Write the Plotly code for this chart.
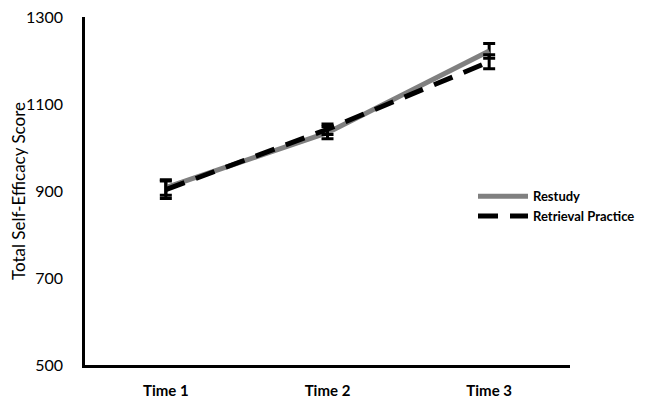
import plotly.graph_objects as go

categories = ["Time 1", "Time 2", "Time 3"]
restudy = [908, 1034, 1222]
restudy_err = [18, 14, 17]
retrieval = [903, 1042, 1197]
retrieval_err = [20, 12, 16]
y_ticks = [500, 700, 900, 1100, 1300]

fig = go.Figure()
fig.add_trace(go.Scatter(
    x=categories, y=restudy, name="Restudy", mode="lines",
    line=dict(color="#808080", width=5),
    error_y=dict(type="data", array=restudy_err, color="black", thickness=3, width=6),
))
fig.add_trace(go.Scatter(
    x=categories, y=retrieval, name="Retrieval Practice", mode="lines",
    line=dict(color="black", width=5, dash="20px,12px"),
    error_y=dict(type="data", array=retrieval_err, color="black", thickness=3, width=6),
))

fig.update_layout(
    width=637, height=390,
    margin=dict(l=77, r=75, t=9, b=33, autoexpand=False),
    paper_bgcolor="white", plot_bgcolor="white",
    font=dict(family="Lato, Open Sans, sans-serif", color="black"),
    showlegend=True,
    legend=dict(x=0.80, y=0.528, xanchor="left", yanchor="top",
                font=dict(size=13, color="black", family="Lato", weight="bold"),
                itemwidth=50, bgcolor="rgba(0,0,0,0)", tracegroupgap=0),
    xaxis=dict(showline=True, linecolor="black", linewidth=2.5, showgrid=False,
               range=[-0.5, 2.5], automargin=False,
               ticks="", tickfont=dict(size=15, family="Lato", weight="bold"),
               ticklabelstandoff=10, zeroline=False),
    yaxis=dict(range=[500, 1300], tickvals=y_ticks, showline=True, linecolor="black",
               linewidth=2.5, showgrid=False, ticks="", zeroline=False,
               automargin=False, ticklabeloverflow="allow",
               tickfont=dict(size=16, family="Lato"), ticklabelstandoff=16,
               title=dict(text="Total Self-Efficacy Score", font=dict(size=17, family="Lato"), standoff=8)),
)

fig.write_html("out.html")
